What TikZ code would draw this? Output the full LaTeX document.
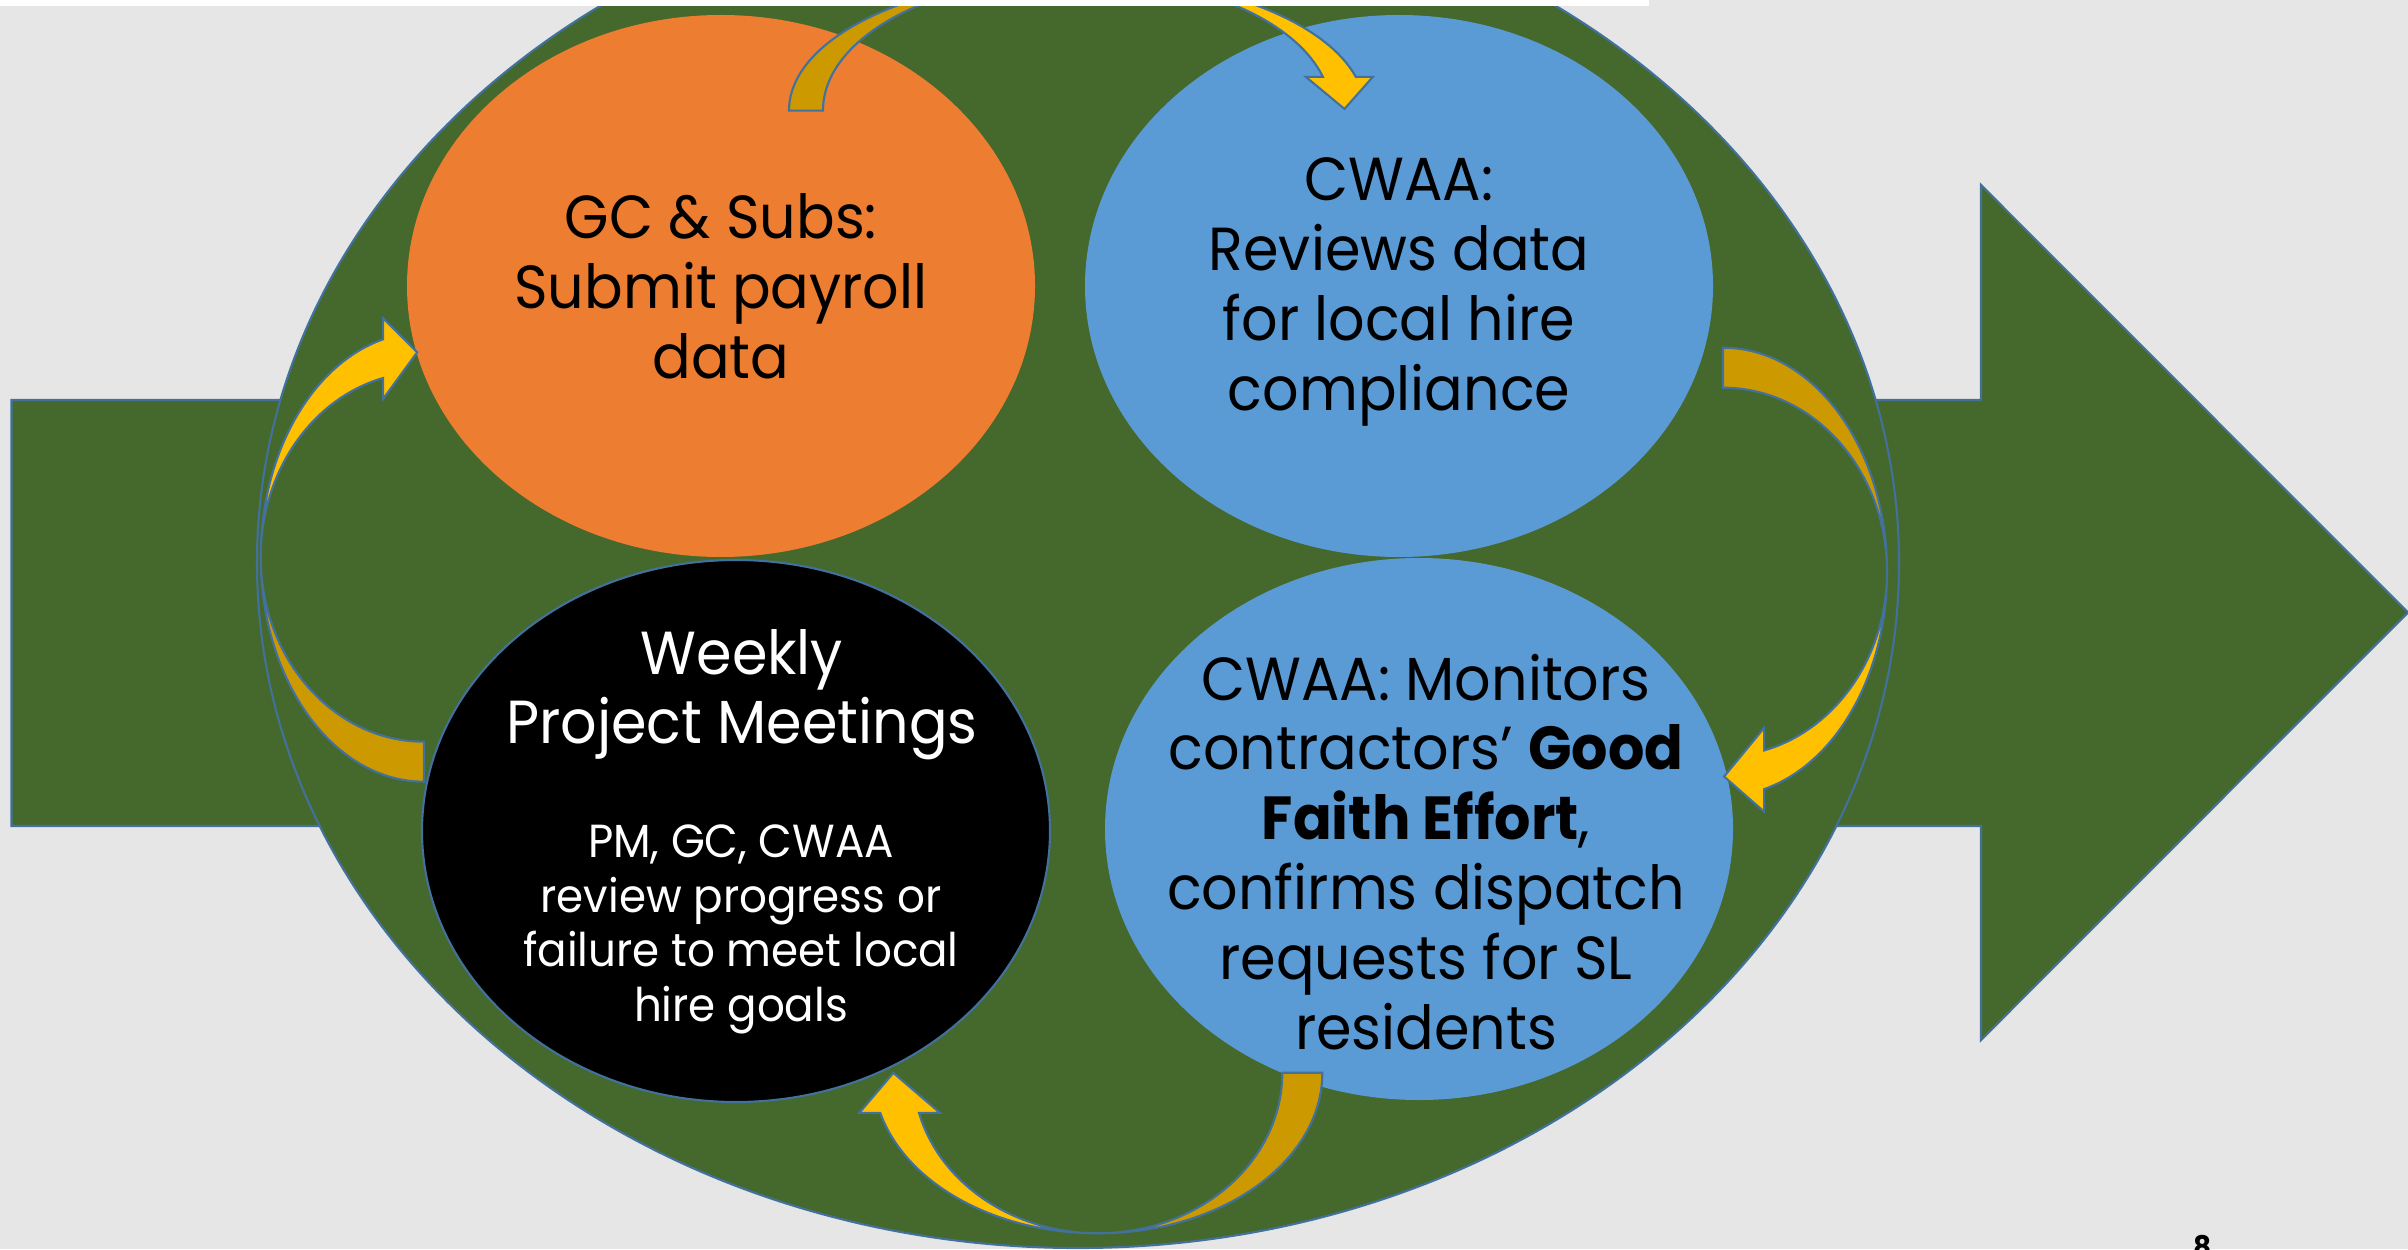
\documentclass[tikz,border=0pt]{standalone}
\usepackage{fontspec}
\setmainfont{Poppins}[FakeStretch=0.94]
\usetikzlibrary{shapes.geometric}

\definecolor{bggray}{RGB}{231,230,230}
\definecolor{leafgreen}{RGB}{69,104,44}
\definecolor{edgeblue}{RGB}{65,113,156}
\definecolor{skyblue}{RGB}{91,155,213}
\definecolor{tangerine}{RGB}{237,125,49}
\definecolor{gold}{RGB}{255,192,0}
\definecolor{darkgold}{RGB}{204,154,0}

% curved block arrow: centre, rotation, long radius, depth, thickness, head overhang, head length
\newcommand{\bentarrow}[7]{%
  \begin{scope}[shift={(#1)}, rotate=#2]
    \pgfmathsetmacro{\inr}{#3-#5}
    \pgfmathsetmacro{\ca}{cos(75.5)}
    \pgfmathsetmacro{\sa}{sin(75.5)}
    \path[fill=darkgold, rim] (0,#3) arc[start angle=90, end angle=0, x radius=#4, y radius=#3]
      arc[start angle=0, end angle=90, x radius=#4, y radius=\inr] -- cycle;
    \path[fill=gold, rim] (#4,0) arc[start angle=0, end angle=-75.5, x radius=#4, y radius=#3]
      -- ++(0,-#6) -- ({#4*\ca-#7}, {-(#3-#5/2)*\sa-0.3*#6})
      -- ({#4*\ca}, {-\inr*\sa+#6}) -- ({#4*\ca}, {-\inr*\sa})
      arc[start angle=-75.5, end angle=0, x radius=#4, y radius=\inr] -- cycle;
  \end{scope}}

\begin{document}
\begin{tikzpicture}[every node/.style={inner sep=0pt, outer sep=0pt},
    rim/.style={draw=edgeblue, line width=0.6pt},
    stage/.style={ellipse, minimum width=6.28cm, minimum height=5.42cm},
    bigtext/.style={font=\fontsize{17.3}{19.9}\selectfont, align=center},
    smalltext/.style={font=\fontsize{13.2}{15.5}\selectfont, align=center}]
  \useasboundingbox (0,0) rectangle (24.08,12.49);
  \clip (0,0) rectangle (24.08,12.49);
  \fill[bggray] (0,0) rectangle (24.08,12.49);

  % big arrow and ring
  \path[fill=leafgreen, rim] (0.115,8.49) -- (19.81,8.49) -- (19.81,10.64) -- (24.08,6.365)
    -- (19.81,2.09) -- (19.81,4.23) -- (0.115,4.23) -- cycle;
  \node[ellipse, fill=leafgreen, rim, minimum width=16.42cm, minimum height=13.7cm] (ring) at (10.78,6.86) {};

  % stages
  \node[stage, fill=tangerine, label={[bigtext]center:{GC \& Subs:\\Submit payroll\\data}}] (submit) at (7.21,9.63) {};
  \node[stage, fill=skyblue, label={[bigtext, yshift=-0.06cm]center:{CWAA:\\Reviews data\\for local hire\\compliance}}] (review) at (13.99,9.63) {};
  \node[stage, fill=skyblue, label={[bigtext, xshift=0.07cm, yshift=-0.23cm]center:{CWAA: Monitors\\contractors’ \textbf{Good}\\\textbf{Faith Effort},\\confirms dispatch\\requests for SL\\residents}}] (monitor) at (14.19,4.20) {};
  \node[stage, fill=black, rim,
    label={[bigtext, text=white, xshift=0.06cm, yshift=1.363cm]center:{Weekly\\Project Meetings}},
    label={[smalltext, text=white, xshift=0.05cm, yshift=-0.982cm]center:{PM, GC, CWAA\\review progress or\\failure to meet local\\hire goals}}] (meet) at (7.36,4.18) {};

  % curved arrows between the stages
  \coordinate (topc) at (10.77,11.384);
  \coordinate (rightc) at (17.23,6.77);
  \coordinate (botc) at (10.977,1.763);
  \coordinate (leftc) at (4.24,6.921);
  \bentarrow{topc}{90}{2.88}{1.345}{0.34}{0.17}{0.32}
  \bentarrow{rightc}{0}{2.243}{1.64}{0.40}{0.225}{0.40}
  \bentarrow{botc}{-90}{2.246}{1.606}{0.40}{0.21}{0.40}
  \bentarrow{leftc}{180}{2.248}{1.633}{0.40}{0.21}{0.34}

  \node[font=\bfseries\fontsize{8.5}{10}\selectfont, anchor=base] (pageno) at (22.03,-0.085) {8};
  \fill[white] (0,12.43) rectangle (16.49,12.49);
\end{tikzpicture}
\end{document}
